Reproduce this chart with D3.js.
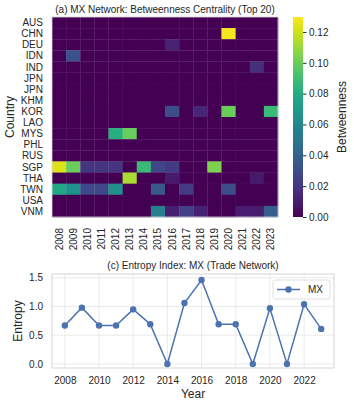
<!DOCTYPE html>
<html>
<head>
<meta charset="utf-8">
<script src="https://cdn.jsdelivr.net/npm/d3@7"></script>
<style>
  body { margin: 0; background: #fff; }
  svg text { font-family: "Liberation Sans", Arial, sans-serif; fill: #262626; }
</style>
</head>
<body>
<div id="chart"></div>
<script>
var countries = ["AUS", "CHN", "DEU", "IDN", "IND", "JPN", "JPN", "KHM", "KOR", "LAO",
  "MYS", "PHL", "RUS", "SGP", "THA", "TWN", "USA", "VNM"];
var years = [2008, 2009, 2010, 2011, 2012, 2013, 2014, 2015, 2016, 2017, 2018, 2019, 2020, 2021, 2022, 2023];

// betweenness per country (rows) and year (columns)
var betweenness = [
  [0, 0, 0, 0, 0, 0, 0, 0, 0, 0, 0, 0, 0, 0, 0, 0],
  [0, 0, 0, 0, 0, 0, 0, 0, 0, 0, 0, 0, 0.128, 0, 0, 0],
  [0, 0, 0, 0, 0, 0, 0, 0, 0.012, 0, 0, 0, 0, 0, 0, 0],
  [0, 0.032, 0, 0, 0, 0, 0, 0, 0, 0, 0, 0, 0, 0, 0, 0],
  [0, 0, 0, 0, 0, 0, 0, 0, 0, 0, 0, 0, 0, 0, 0.018, 0],
  [0, 0, 0, 0, 0, 0, 0, 0, 0, 0, 0, 0, 0, 0, 0, 0],
  [0, 0, 0, 0, 0, 0, 0, 0, 0, 0, 0, 0, 0, 0, 0, 0],
  [0, 0, 0, 0, 0, 0, 0, 0, 0, 0, 0, 0, 0, 0, 0, 0],
  [0, 0, 0, 0, 0, 0, 0, 0, 0.03, 0, 0.014, 0, 0.1, 0, 0, 0.088],
  [0, 0, 0, 0, 0, 0, 0, 0, 0, 0, 0, 0, 0, 0, 0, 0],
  [0, 0, 0, 0, 0.082, 0.1, 0, 0, 0, 0, 0, 0, 0, 0, 0, 0],
  [0, 0, 0, 0, 0, 0, 0, 0, 0, 0, 0, 0, 0, 0, 0, 0],
  [0, 0, 0, 0, 0, 0, 0, 0, 0, 0, 0, 0, 0, 0, 0, 0],
  [0.123, 0.1, 0.02, 0.02, 0.02, 0, 0.088, 0.027, 0.022, 0, 0, 0.104, 0, 0, 0, 0],
  [0, 0, 0, 0, 0, 0.113, 0, 0, 0.009, 0, 0, 0, 0, 0, 0.009, 0],
  [0.078, 0.066, 0.028, 0.028, 0.064, 0, 0, 0.035, 0, 0.022, 0, 0, 0.03, 0, 0, 0],
  [0, 0, 0, 0, 0, 0, 0, 0, 0, 0, 0, 0, 0, 0, 0, 0],
  [0, 0, 0, 0, 0, 0, 0, 0.056, 0.011, 0.024, 0.012, 0, 0, 0.01, 0.01, 0.038]
];
var colorTicks = [0, 0.02, 0.04, 0.06, 0.08, 0.1, 0.12];
var colorMax = 0.1297;

var entropy = [0.67, 0.98, 0.67, 0.67, 0.95, 0.69, 0, 1.06, 1.46, 0.69, 0.69, 0, 0.97, 0, 1.04, 0.61];
var entropyTicks = [0, 0.5, 1.0, 1.5];
var yearTicks = [2008, 2010, 2012, 2014, 2016, 2018, 2020, 2022];

var svg = d3.select("#chart").append("svg")
  .attr("width", 354)
  .attr("height", 404);

// ---- heatmap ----
var hm = { left: 52, right: 278, top: 17, bottom: 217 };
var xb = d3.scaleBand().domain(years).range([hm.left, hm.right]);
var yb = d3.scaleBand().domain(d3.range(countries.length)).range([hm.top, hm.bottom]);
var color = d3.scaleSequential(d3.interpolateViridis).domain([0, colorMax]);

var cells = [];
betweenness.forEach(function(row, i) {
  row.forEach(function(v, j) {
    cells.push({ r: i, year: years[j], v: v });
  });
});

svg.append("g").selectAll("rect")
  .data(cells)
  .enter().append("rect")
  .attr("x", function(d) { return xb(d.year); })
  .attr("y", function(d) { return yb(d.r); })
  .attr("width", xb.bandwidth() + 0.3)
  .attr("height", yb.bandwidth() + 0.3)
  .attr("fill", function(d) { return color(d.v); });

svg.append("rect")
  .attr("x", hm.left).attr("y", hm.top)
  .attr("width", hm.right - hm.left).attr("height", hm.bottom - hm.top)
  .attr("fill", "none").attr("stroke", "#d6d6d6").attr("stroke-width", 0.8);

// row labels
svg.append("g").selectAll("text")
  .data(countries)
  .enter().append("text")
  .attr("x", 43)
  .attr("y", function(d, i) { return yb(i) + yb.bandwidth() / 2; })
  .attr("dy", "0.35em")
  .attr("text-anchor", "end")
  .style("font-size", "10px")
  .text(function(d) { return d; });

// column labels
svg.append("g").selectAll("text")
  .data(years)
  .enter().append("text")
  .attr("transform", function(d) { return "translate(" + (xb(d) + xb.bandwidth() / 2) + ",228) rotate(-90)"; })
  .attr("dy", "0.35em")
  .attr("text-anchor", "end")
  .style("font-size", "10px")
  .text(function(d) { return d; });

svg.append("text")
  .attr("x", (hm.left + hm.right) / 2).attr("y", 13)
  .attr("text-anchor", "middle")
  .style("font-size", "10px")
  .text("(a) MX Network: Betweenness Centrality (Top 20)");

svg.append("text")
  .attr("transform", "translate(14," + (hm.top + hm.bottom) / 2 + ") rotate(-90)")
  .attr("text-anchor", "middle")
  .style("font-size", "12px")
  .text("Country");

// colorbar
var cb = { x: 293, w: 10 };
var cy = d3.scaleLinear().domain([0, colorMax]).range([hm.bottom, hm.top]);
var grad = svg.append("defs").append("linearGradient")
  .attr("id", "cbgrad").attr("x1", 0).attr("y1", 1).attr("x2", 0).attr("y2", 0);
d3.range(0, 1.0001, 0.05).forEach(function(t) {
  grad.append("stop").attr("offset", t).attr("stop-color", d3.interpolateViridis(t));
});
svg.append("rect")
  .attr("x", cb.x).attr("y", hm.top)
  .attr("width", cb.w).attr("height", hm.bottom - hm.top)
  .attr("fill", "url(#cbgrad)");

var cbAxis = svg.append("g")
  .attr("transform", "translate(" + (cb.x + cb.w) + ",0)")
  .call(d3.axisRight(cy).tickValues(colorTicks).tickFormat(d3.format(".2f")).tickSize(3.5).tickPadding(2.5));
cbAxis.select(".domain").remove();
cbAxis.selectAll("line").attr("stroke", "#262626");
cbAxis.selectAll("text").style("font-size", "10px").style("font-family", "Liberation Sans, Arial, sans-serif").attr("fill", "#262626");

svg.append("text")
  .attr("transform", "translate(346," + (hm.top + hm.bottom) / 2 + ") rotate(-90)")
  .attr("text-anchor", "middle")
  .style("font-size", "12px")
  .text("Betweenness");

// ---- entropy line chart ----
var lc = { left: 52, right: 334, top: 274, bottom: 368 };
var x = d3.scaleLinear().domain([2007.25, 2023.75]).range([lc.left, lc.right]);
var y = d3.scaleLinear().domain([-0.07, 1.565]).range([lc.bottom, lc.top]);

var grid = svg.append("g");
grid.selectAll(".vg")
  .data(yearTicks)
  .enter().append("line")
  .attr("x1", function(d) { return x(d); }).attr("x2", function(d) { return x(d); })
  .attr("y1", lc.top).attr("y2", lc.bottom)
  .attr("stroke", "#e6e6e6").attr("stroke-width", 0.8);
grid.selectAll(".hg")
  .data(entropyTicks)
  .enter().append("line")
  .attr("x1", lc.left).attr("x2", lc.right)
  .attr("y1", function(d) { return y(d); }).attr("y2", function(d) { return y(d); })
  .attr("stroke", "#e6e6e6").attr("stroke-width", 0.8);

svg.append("rect")
  .attr("x", lc.left).attr("y", lc.top)
  .attr("width", lc.right - lc.left).attr("height", lc.bottom - lc.top)
  .attr("fill", "none").attr("stroke", "#d0d0d0").attr("stroke-width", 0.9);

var xAxis = svg.append("g")
  .attr("transform", "translate(0," + lc.bottom + ")")
  .call(d3.axisBottom(x).tickValues(yearTicks).tickFormat(d3.format("d")).tickSize(0).tickPadding(9));
xAxis.select(".domain").remove();
xAxis.selectAll("text").style("font-size", "10px").style("font-family", "Liberation Sans, Arial, sans-serif").attr("fill", "#262626");

var yAxis = svg.append("g")
  .attr("transform", "translate(" + lc.left + ",0)")
  .call(d3.axisLeft(y).tickValues(entropyTicks).tickFormat(d3.format(".1f")).tickSize(0).tickPadding(9));
yAxis.select(".domain").remove();
yAxis.selectAll("text").style("font-size", "10px").style("font-family", "Liberation Sans, Arial, sans-serif").attr("fill", "#262626");

var line = d3.line()
  .x(function(d, i) { return x(years[i]); })
  .y(function(d) { return y(d); });

svg.append("path")
  .datum(entropy)
  .attr("d", line)
  .attr("fill", "none")
  .attr("stroke", "#4c72b0")
  .attr("stroke-width", 1.5);

svg.append("g").selectAll("circle")
  .data(entropy)
  .enter().append("circle")
  .attr("cx", function(d, i) { return x(years[i]); })
  .attr("cy", function(d) { return y(d); })
  .attr("r", 3.2)
  .attr("fill", "#4c72b0");

svg.append("text")
  .attr("x", (lc.left + lc.right) / 2).attr("y", 269)
  .attr("text-anchor", "middle")
  .style("font-size", "10px")
  .text("(c) Entropy Index: MX (Trade Network)");

svg.append("text")
  .attr("x", (lc.left + lc.right) / 2).attr("y", 398)
  .attr("text-anchor", "middle")
  .style("font-size", "12px")
  .text("Year");

svg.append("text")
  .attr("transform", "translate(22," + (lc.top + lc.bottom) / 2 + ") rotate(-90)")
  .attr("text-anchor", "middle")
  .style("font-size", "12px")
  .text("Entropy");

// legend
var lg = svg.append("g").attr("transform", "translate(273,280)");
lg.append("rect")
  .attr("width", 57).attr("height", 19).attr("rx", 2)
  .attr("fill", "#fff").attr("stroke", "#d8d8d8").attr("stroke-width", 0.8);
lg.append("line")
  .attr("x1", 4).attr("x2", 27).attr("y1", 9.5).attr("y2", 9.5)
  .attr("stroke", "#4c72b0").attr("stroke-width", 1.5);
lg.append("circle").attr("cx", 15.5).attr("cy", 9.5).attr("r", 3.2).attr("fill", "#4c72b0");
lg.append("text").attr("x", 35).attr("y", 9.5).attr("dy", "0.35em")
  .style("font-size", "10px").text("MX");
</script>
</body>
</html>
